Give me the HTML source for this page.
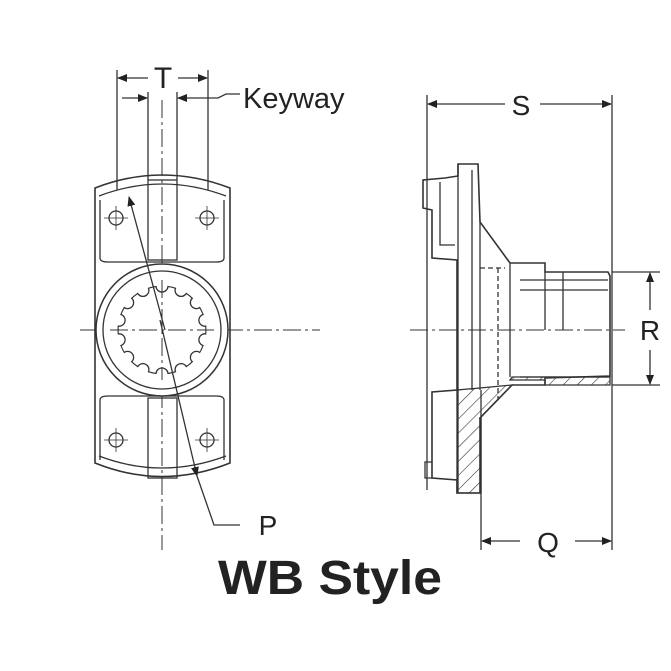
<!DOCTYPE html>
<html><head><style>body{margin:0;background:#fff}svg{display:block}</style></head><body>
<svg width="671" height="671" viewBox="0 0 671 671" xmlns="http://www.w3.org/2000/svg" font-family="Liberation Sans, sans-serif">
<defs>
<marker id="a" markerWidth="10" markerHeight="8" refX="9" refY="4" orient="auto" markerUnits="userSpaceOnUse"><path d="M0,0 L10,4 L0,8 z" fill="#222"/></marker>
<pattern id="h" width="10" height="10" patternUnits="userSpaceOnUse" patternTransform="rotate(45)"><line x1="0" y1="0" x2="0" y2="10" stroke="#333" stroke-width="1.2"/></pattern>
</defs>
<g stroke="#333" fill="none" stroke-width="1.3">
<line x1="117" y1="70" x2="117" y2="190"/><line x1="208" y1="70" x2="208" y2="190"/>
<line x1="148" y1="92" x2="148" y2="180"/><line x1="177" y1="92" x2="177" y2="180"/>
<line x1="148" y1="78" x2="118" y2="78" marker-end="url(#a)"/><line x1="178" y1="78" x2="207" y2="78" marker-end="url(#a)"/>
<line x1="122" y1="98" x2="147" y2="98" marker-end="url(#a)"/><line x1="205" y1="98" x2="178" y2="98" marker-end="url(#a)"/>
<path d="M205 98 L218 98 L226 94 L240 94"/>
<line x1="162" y1="100" x2="162" y2="550" stroke-dasharray="18,4,3,4" stroke-width="1"/>
<line x1="80" y1="330" x2="320" y2="330" stroke-dasharray="18,4,3,4" stroke-width="1"/>
<path d="M95 188 Q162 162 230 188 L230 463 Q162 490 95 463 Z" stroke-width="1.6"/>
<path d="M99 196 Q162 172 226 196"/><path d="M99 456 Q162 480 226 456"/>
<path d="M100 200 L100 258 Q100 262 108 262 L216 262 Q224 262 224 258 L224 200"/>
<path d="M100 460 L100 400 Q100 396 108 396 L216 396 Q224 396 224 400 L224 460"/>
<rect x="148" y="180" width="29" height="80"/><rect x="148" y="398" width="29" height="80"/>
<circle cx="162" cy="330" r="66" stroke-width="1.5" fill="#fff"/><circle cx="162" cy="330" r="59"/>
<circle cx="162" cy="330" r="44"/>
<g fill="#fff">
<circle cx="162" cy="286" r="6"/><circle cx="181.1" cy="290.4" r="6"/><circle cx="196.4" cy="302.6" r="6"/><circle cx="204.9" cy="320.2" r="6"/><circle cx="204.9" cy="339.8" r="6"/><circle cx="196.4" cy="357.4" r="6"/><circle cx="181.1" cy="369.6" r="6"/><circle cx="162" cy="374" r="6"/><circle cx="142.9" cy="369.6" r="6"/><circle cx="127.6" cy="357.4" r="6"/><circle cx="119.1" cy="339.8" r="6"/><circle cx="119.1" cy="320.2" r="6"/><circle cx="127.6" cy="302.6" r="6"/><circle cx="142.9" cy="290.4" r="6"/>
</g>
<circle cx="162" cy="330" r="48" stroke="#fff" stroke-width="7"/>
<line x1="162" y1="280" x2="162" y2="380" stroke-dasharray="18,4,3,4" stroke-width="1"/>
<line x1="110" y1="330" x2="214" y2="330" stroke-dasharray="18,4,3,4" stroke-width="1"/>
<g><circle cx="116" cy="218" r="7"/><circle cx="207" cy="218" r="7"/><circle cx="116" cy="440" r="7"/><circle cx="207" cy="440" r="7"/>
<path d="M104 218h24M116 206v24M195 218h24M207 206v24M104 440h24M116 428v24M195 440h24M207 428v24" stroke-width="0.8"/></g>
<line x1="165" y1="330" x2="129" y2="197" marker-end="url(#a)"/>
<line x1="160" y1="320" x2="197" y2="476" marker-end="url(#a)"/>
<path d="M197 476 L214 525 L240 525"/>
<line x1="427" y1="95" x2="427" y2="490"/><line x1="612" y1="95" x2="612" y2="550"/>
<line x1="481" y1="390" x2="481" y2="550"/>
<line x1="505" y1="104" x2="428" y2="104" marker-end="url(#a)"/>
<line x1="540" y1="104" x2="611" y2="104" marker-end="url(#a)"/>
<line x1="520" y1="541" x2="482" y2="541" marker-end="url(#a)"/><line x1="575" y1="541" x2="611" y2="541" marker-end="url(#a)"/>
<line x1="612" y1="272" x2="660" y2="272"/><line x1="612" y1="385" x2="660" y2="385"/>
<line x1="650" y1="310" x2="650" y2="273" marker-end="url(#a)"/><line x1="650" y1="350" x2="650" y2="384" marker-end="url(#a)"/>
<line x1="410" y1="330" x2="625" y2="330" stroke-dasharray="18,4,3,4" stroke-width="1"/>
<path d="M458 164 L478 164 L480 222 L510 263 L545 263 L545 272 L608 272 L610 276 L610 376 L545 378 L545 385 L512 385 L480 418 L480 493 L457 493 L457 480 L432 478 L432 400 L432 392 L457 390 L457 260 L432 258 L432 210 L423 208 L423 180 L445 178 L458 176 Z" stroke-width="1.6"/>
<line x1="458" y1="164" x2="458" y2="493"/><line x1="472" y1="170" x2="472" y2="390"/>
<path d="M480 222 L480 390"/><path d="M440 182 L440 245 L455 245"/>
<path d="M510 263 L510 377 M520 280 L608 280 M520 290 L608 290 M563 272 L563 330 M520 377 L608 377 M545 272 L545 330"/>
<path d="M480 268 L505 268 M498 268 L498 400" stroke-dasharray="5,3"/>
<path d="M432 478 L425 478 L425 462 L432 462"/>
<path d="M481 418 L481 493 L457 493 L457 390 L480 388 L512 385 L480 418 Z" fill="url(#h)"/>
<path d="M510 380 L545 380 L545 385 L610 385 L610 377 L512 377 Z" fill="url(#h)"/>
</g>
<g fill="#222">
<text x="163" y="88" font-size="30" text-anchor="middle">T</text>
<text x="243" y="108" font-size="29">Keyway</text>
<text x="521" y="115" font-size="28" text-anchor="middle">S</text>
<text x="650" y="340" font-size="28" text-anchor="middle">R</text>
<text x="268" y="535" font-size="28" text-anchor="middle">P</text>
<text x="548" y="552" font-size="28" text-anchor="middle">Q</text>
<text x="218" y="594" font-size="48" font-weight="bold" textLength="224" lengthAdjust="spacingAndGlyphs">WB Style</text>
</g>
</svg>
</body></html>
